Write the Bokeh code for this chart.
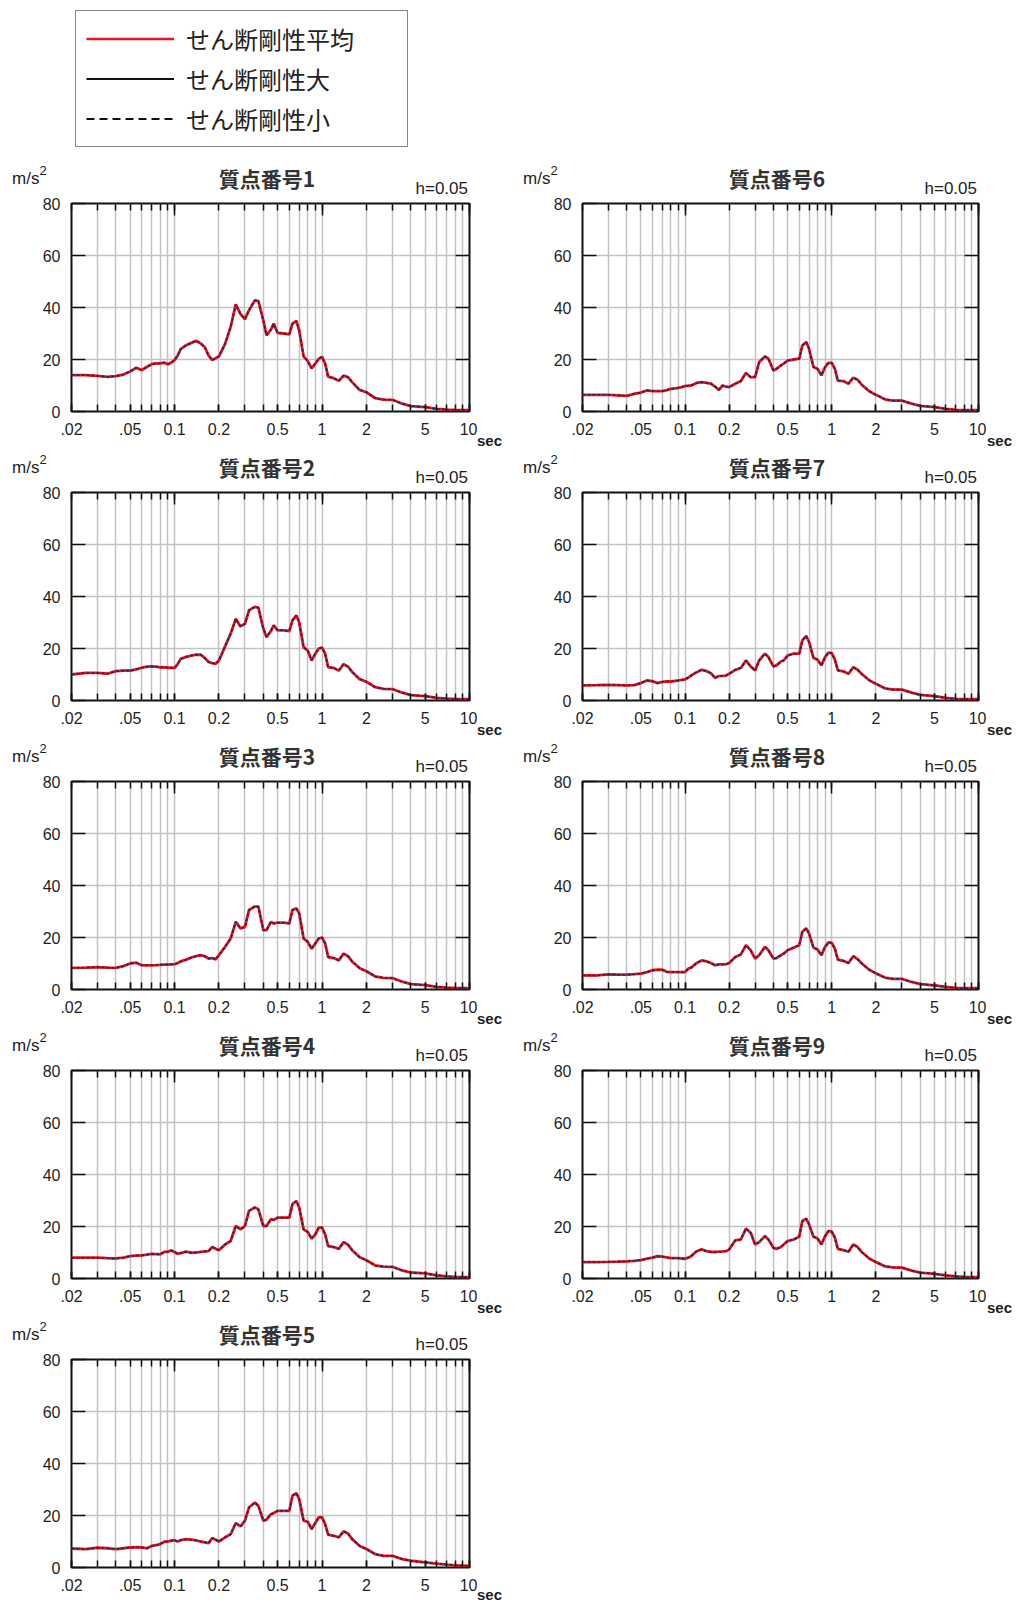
from bokeh.plotting import figure
from bokeh.layouts import column, row
from bokeh.models import (FixedTicker, LinearAxis, LogAxis, Legend, LegendItem,
                          Spacer, Range1d, ColumnDataSource, Div)
from bokeh.embed import file_html
from bokeh.resources import INLINE

# ---------------- data ----------------
PERIODS = [0.02, 0.025, 0.03, 0.035, 0.04, 0.045, 0.05, 0.055, 0.06, 0.065,
           0.07, 0.075, 0.08, 0.085, 0.09, 0.095, 0.1, 0.105, 0.11, 0.12,
           0.13, 0.14, 0.15, 0.16, 0.17, 0.18, 0.19, 0.2, 0.22, 0.24,
           0.26, 0.28, 0.3, 0.32, 0.35, 0.37, 0.4, 0.42, 0.45, 0.47,
           0.5, 0.55, 0.6, 0.63, 0.67, 0.7, 0.75, 0.8, 0.85, 0.9,
           0.95, 1.0, 1.05, 1.1, 1.2, 1.3, 1.4, 1.5, 1.6, 1.8,
           2.0, 2.3, 2.6, 3.0, 3.5, 4.0, 5.0, 6.0, 7.0, 8.0,
           10.0]

SA_1 = [14.0, 14.0, 13.7, 13.3, 13.6, 14.2, 15.4, 16.8, 15.9, 17.2,
        18.2, 18.5, 18.5, 18.8, 18.2, 18.8, 19.8, 21.5, 24.0, 25.5,
        26.4, 27.2, 26.2, 24.8, 21.6, 19.8, 20.5, 21.2, 26.0, 32.5,
        41.2, 37.5, 35.5, 39.0, 42.7, 42.5, 35.0, 29.3, 31.5, 33.8,
        30.2, 30.0, 29.7, 33.8, 34.8, 31.2, 21.2, 19.4, 16.6, 18.4,
        20.3, 21.0, 18.4, 13.4, 12.8, 11.8, 13.8, 13.2, 11.3, 8.3,
        7.4, 5.1, 4.6, 4.5, 3.0, 2.1, 1.7, 1.0, 0.7, 0.6,
        0.5]
SA_2 = [10.0, 10.6, 10.6, 10.3, 11.3, 11.5, 11.5, 12.0, 12.6, 13.0,
        13.1, 13.0, 12.7, 12.8, 12.6, 12.6, 12.5, 14.0, 16.0, 16.8,
        17.3, 17.6, 17.6, 16.4, 14.8, 14.4, 14.1, 15.4, 20.8, 25.7,
        31.4, 28.5, 29.5, 34.7, 36.0, 35.7, 27.6, 24.4, 26.7, 28.9,
        27.0, 27.0, 26.7, 30.8, 32.7, 30.1, 20.5, 19.2, 15.4, 18.0,
        20.0, 20.3, 18.0, 12.8, 12.5, 11.5, 14.0, 13.0, 11.0, 8.2,
        7.2, 5.1, 4.5, 4.4, 3.0, 2.1, 1.7, 1.0, 0.7, 0.6,
        0.5]
SA_3 = [8.3, 8.4, 8.6, 8.4, 8.3, 9.0, 10.0, 10.3, 9.3, 9.3,
        9.3, 9.4, 9.5, 9.6, 9.6, 9.7, 9.7, 10.2, 10.8, 11.5,
        12.3, 12.8, 13.2, 12.8, 11.9, 12.1, 11.6, 13.2, 16.4, 19.6,
        26.0, 23.5, 24.1, 30.6, 31.9, 31.9, 22.8, 22.8, 26.0, 25.4,
        25.7, 25.7, 25.4, 30.6, 31.2, 29.3, 19.6, 18.3, 15.7, 17.7,
        19.6, 20.0, 17.7, 12.5, 12.1, 11.2, 13.8, 12.8, 10.8, 8.2,
        7.0, 5.0, 4.5, 4.4, 3.0, 2.1, 1.7, 1.0, 0.7, 0.6,
        0.5]
SA_4 = [8.0, 8.0, 8.0, 7.8, 7.7, 8.0, 8.6, 8.8, 8.9, 9.2,
        9.5, 9.4, 9.3, 10.2, 10.3, 10.8, 10.2, 9.5, 9.8, 10.3,
        9.9, 10.0, 10.2, 10.4, 10.5, 12.1, 11.4, 10.9, 13.1, 14.4,
        20.2, 18.9, 20.2, 26.0, 27.3, 26.6, 20.2, 20.2, 22.8, 22.5,
        23.4, 23.4, 23.4, 28.6, 29.8, 27.3, 18.9, 17.9, 15.3, 17.0,
        19.6, 19.6, 17.0, 12.5, 12.1, 11.4, 14.0, 13.0, 10.9, 8.2,
        7.0, 5.0, 4.6, 4.5, 3.1, 2.3, 2.0, 1.2, 0.8, 0.6,
        0.5]
SA_5 = [7.3, 7.1, 7.6, 7.4, 7.1, 7.4, 7.7, 7.8, 7.7, 7.4,
        8.3, 8.6, 9.0, 9.9, 10.0, 10.3, 10.5, 10.0, 10.5, 10.9,
        10.7, 10.4, 10.0, 9.7, 9.4, 11.3, 10.7, 10.0, 11.6, 12.8,
        17.1, 15.8, 18.0, 23.1, 25.0, 23.7, 18.0, 18.4, 20.5, 20.9,
        21.8, 21.8, 21.8, 27.6, 28.6, 26.3, 18.0, 17.6, 14.8, 17.1,
        19.3, 19.3, 16.7, 12.6, 12.2, 11.6, 13.9, 13.1, 10.9, 8.3,
        7.1, 5.1, 4.5, 4.5, 3.2, 2.6, 2.0, 1.5, 1.1, 0.8,
        0.6]
SA_6 = [6.4, 6.4, 6.4, 6.2, 6.0, 6.8, 7.3, 8.1, 7.8, 7.8,
        7.8, 8.2, 8.7, 8.9, 9.1, 9.4, 9.8, 9.9, 10.0, 11.0,
        11.3, 11.0, 10.7, 9.6, 8.3, 10.0, 9.6, 9.4, 10.7, 11.7,
        14.8, 13.2, 13.2, 19.0, 21.2, 20.3, 15.8, 16.4, 17.7, 18.4,
        19.6, 20.0, 20.3, 25.4, 26.7, 24.1, 17.1, 16.4, 13.9, 17.1,
        18.7, 18.7, 16.4, 11.9, 11.7, 10.7, 13.0, 12.2, 10.3, 7.8,
        6.4, 4.7, 4.2, 4.2, 3.0, 2.2, 1.7, 1.0, 0.6, 0.5,
        0.5]
SA_7 = [5.8, 5.9, 6.0, 5.9, 5.8, 5.9, 6.7, 7.7, 7.4, 6.7,
        7.2, 7.3, 7.3, 7.5, 7.7, 7.9, 8.1, 8.8, 9.6, 10.9,
        11.8, 11.3, 10.5, 8.7, 9.4, 9.5, 9.6, 10.3, 11.8, 12.5,
        15.4, 13.1, 11.6, 15.4, 18.0, 16.7, 13.1, 13.5, 15.0, 15.4,
        17.3, 18.0, 18.0, 23.1, 24.8, 22.5, 16.4, 15.7, 13.5, 16.7,
        18.4, 18.2, 15.7, 11.6, 11.2, 10.3, 12.8, 11.8, 10.2, 7.8,
        6.4, 4.7, 4.2, 4.2, 3.0, 2.2, 1.7, 1.0, 0.6, 0.5,
        0.5]
SA_8 = [5.4, 5.4, 5.8, 5.7, 5.7, 5.9, 6.1, 6.7, 7.4, 7.6,
        7.6, 6.8, 6.7, 6.7, 6.7, 6.7, 6.7, 8.0, 8.4, 10.2,
        11.2, 10.8, 10.2, 9.3, 9.7, 9.7, 9.7, 10.2, 12.5, 13.5,
        17.0, 15.1, 11.9, 13.2, 16.4, 15.1, 11.9, 12.1, 13.2, 13.8,
        15.1, 16.1, 17.0, 22.2, 23.5, 21.5, 16.1, 15.4, 13.2, 16.4,
        18.1, 17.9, 15.7, 11.5, 11.0, 10.2, 12.8, 11.7, 10.0, 7.6,
        6.2, 4.6, 4.1, 4.1, 2.9, 2.1, 1.6, 1.0, 0.6, 0.5,
        0.5]
SA_9 = [6.3, 6.3, 6.4, 6.5, 6.6, 6.8, 7.1, 7.6, 8.0, 8.6,
        8.4, 8.1, 7.8, 7.8, 7.8, 7.7, 7.6, 8.0, 8.6, 10.5,
        11.2, 10.5, 10.2, 10.2, 10.3, 10.4, 10.5, 11.2, 14.7, 15.0,
        19.2, 17.6, 13.1, 14.0, 16.3, 15.0, 11.8, 11.4, 12.1, 13.1,
        14.4, 15.0, 16.1, 22.1, 23.0, 20.8, 16.1, 15.4, 13.1, 16.3,
        18.3, 18.0, 15.7, 11.4, 10.9, 10.3, 13.1, 12.1, 10.2, 7.7,
        6.3, 4.7, 4.3, 4.2, 3.0, 2.3, 1.8, 1.2, 0.8, 0.6,
        0.5]

PANEL_TITLES = ["質点番号1", "質点番号2", "質点番号3", "質点番号4", "質点番号5",
                "質点番号6", "質点番号7", "質点番号8", "質点番号9"]
PANEL_VALUES = [SA_1, SA_2, SA_3, SA_4, SA_5, SA_6, SA_7, SA_8, SA_9]
SERIES_NAMES = ["せん断剛性平均", "せん断剛性大", "せん断剛性小"]
DAMPING_LABEL = "h=0.05"
Y_UNIT = "m/s"
Y_UNIT_EXP = "2"
X_UNIT = "sec"
X_TICKS = [0.02, 0.05, 0.1, 0.2, 0.5, 1, 2, 5, 10]
X_TICK_LABELS = [".02", ".05", "0.1", "0.2", "0.5", "1", "2", "5", "10"]
X_DECADES = [0.1, 1, 10]
X_GRID = [0.02, 0.03, 0.04, 0.05, 0.06, 0.07, 0.08, 0.09,
          0.1, 0.2, 0.3, 0.4, 0.5, 0.6, 0.7, 0.8, 0.9,
          1, 2, 3, 4, 5, 6, 7, 8, 9, 10]
Y_TICKS = [0, 20, 40, 60, 80]
Y_GRID = [20, 40, 60]
X_MIN, X_MAX = 0.02, 10
Y_MIN, Y_MAX = 0, 80

# ---------------- styling / layout ----------------
NUM_FONT = "Liberation Sans"
JP_FONT = "Noto Sans CJK JP"
TXT = "#1e1e1e"
INK = "#111111"
GRID_COLOR = "#c2c2c2"
TICK_FONT_SIZE = "16px"
FRAME_H = 208
HEADER_H = 39
FIG_TOP = 6
FIG_BOTTOM = 36
LEGEND_H = 158

LEFT_COL_W = 508
RIGHT_COL_W = 511
COLS = {
    "left": dict(colw=LEFT_COL_W, bl=71, fw=398, br=8, sec_left=0),
    "right": dict(colw=RIGHT_COL_W, bl=74, fw=396, br=8, sec_left=1),
}


def make_figure(idx, geo, bottom):
    width = geo["bl"] + geo["fw"] + geo["br"]
    p = figure(width=width, height=FIG_TOP + FRAME_H + bottom, x_axis_type="log",
               x_range=Range1d(X_MIN, X_MAX), y_range=Range1d(Y_MIN, Y_MAX),
               output_backend="svg", toolbar_location=None,
               min_border_left=geo["bl"], min_border_right=geo["br"],
               min_border_top=FIG_TOP, min_border_bottom=bottom)
    p.background_fill_color = "white"
    p.border_fill_color = "white"
    p.outline_line_color = INK
    p.outline_line_width = 2

    xb = p.xaxis[0]
    xb.ticker = FixedTicker(ticks=X_TICKS, minor_ticks=X_GRID)
    xb.major_label_overrides = {t: l for t, l in zip(X_TICKS, X_TICK_LABELS)}
    xb.major_tick_in = 7
    xb.major_tick_out = 0
    xb.minor_tick_in = 7
    xb.minor_tick_out = 0
    xb.major_tick_line_width = 1.5
    xb.minor_tick_line_width = 1.5
    xb.major_tick_line_color = INK
    xb.minor_tick_line_color = INK
    xb.axis_line_color = None
    xb.major_label_text_font = NUM_FONT
    xb.major_label_text_font_size = TICK_FONT_SIZE
    xb.major_label_text_color = TXT
    xb.major_label_standoff = 11

    yl = p.yaxis[0]
    yl.ticker = FixedTicker(ticks=Y_TICKS)
    yl.major_tick_in = 14
    yl.major_tick_out = 0
    yl.minor_tick_line_color = None
    yl.major_tick_line_width = 1.5
    yl.major_tick_line_color = INK
    yl.axis_line_color = None
    yl.major_label_text_font = NUM_FONT
    yl.major_label_text_font_size = TICK_FONT_SIZE
    yl.major_label_text_color = TXT
    yl.major_label_standoff = 11

    xt = LogAxis(ticker=FixedTicker(ticks=X_DECADES, minor_ticks=X_GRID),
                 major_tick_in=12, major_tick_out=0, minor_tick_in=7, minor_tick_out=0,
                 major_tick_line_width=1.5, minor_tick_line_width=1.5,
                 major_tick_line_color=INK, minor_tick_line_color=INK,
                 axis_line_color=None,
                 major_label_overrides={t: "" for t in X_DECADES},
                 major_label_text_font_size="1px", major_label_standoff=0)
    p.add_layout(xt, "above")

    yr = LinearAxis(ticker=FixedTicker(ticks=Y_GRID),
                    major_tick_in=14, major_tick_out=0, minor_tick_line_color=None,
                    major_tick_line_width=1.5, major_tick_line_color=INK,
                    axis_line_color=None,
                    major_label_overrides={t: "" for t in Y_GRID},
                    major_label_text_font_size="1px", major_label_standoff=0)
    p.add_layout(yr, "right")

    p.xgrid[0].ticker = FixedTicker(ticks=X_GRID)
    p.ygrid[0].ticker = FixedTicker(ticks=Y_GRID)
    for g in (p.xgrid[0], p.ygrid[0]):
        g.grid_line_color = GRID_COLOR
        g.grid_line_width = 1.5

    src = ColumnDataSource(dict(period=PERIODS, sa=PANEL_VALUES[idx]))
    # the three stiffness cases coincide; drawn 大 -> 平均 -> 小
    p.line("period", "sa", source=src, line_color=INK, line_width=1.6)
    p.line("period", "sa", source=src, line_color="#e8161b", line_width=2.8)
    p.line("period", "sa", source=src, line_color="#24205a", line_width=1.5,
           line_dash="3 2")
    return p


def header(idx, geo):
    w = geo["colw"]
    fl, fr = geo["bl"], geo["bl"] + geo["fw"]
    cx = (fl + fr) / 2 - 3
    html = (
        f'<div style="position:relative;width:{w}px;height:{HEADER_H}px;">'
        f'<span style="position:absolute;left:{fl - 59}px;top:12px;line-height:1;'
        f'font-family:\'{NUM_FONT}\';font-size:17px;color:{TXT};white-space:nowrap;">'
        f'{Y_UNIT}<span style="position:relative;top:-9px;font-size:13px;">{Y_UNIT_EXP}</span></span>'
        f'<span style="position:absolute;left:{cx - 100:.1f}px;width:200px;top:10px;'
        f'text-align:center;line-height:1;font-family:\'{JP_FONT}\';font-weight:bold;'
        f'font-size:21px;color:#333333;white-space:nowrap;">{PANEL_TITLES[idx]}</span>'
        f'<span style="position:absolute;right:{w - (fr - 1)}px;top:22px;line-height:1;'
        f'font-family:\'{NUM_FONT}\';font-size:17px;color:{TXT};white-space:nowrap;">'
        f'{DAMPING_LABEL}</span>'
        '</div>'
    )
    return Div(text=html, width=w, height=HEADER_H, margin=(0, 0, 0, 0))


def sec_div(geo, height, top):
    w = geo["colw"] - (geo["bl"] + geo["fw"] + geo["br"])
    html = (
        f'<div style="position:relative;width:{w}px;height:{height}px;">'
        f'<span style="position:absolute;left:{geo["sec_left"]}px;top:{top}px;line-height:1;'
        f'font-family:\'{NUM_FONT}\';font-weight:bold;font-size:15px;color:{TXT};">'
        f'{X_UNIT}</span></div>'
    )
    return Div(text=html, width=w, height=height, margin=(0, 0, 0, 0))


def panel(idx, side, last=False):
    geo = COLS[side]
    bottom = 34 if last else FIG_BOTTOM
    fig = make_figure(idx, geo, bottom)
    h = FIG_TOP + FRAME_H + bottom
    return column(header(idx, geo), row(fig, sec_div(geo, h, h - 14)))


# ---------------- legend (library legend on invisible copies of series 1) ----------------
leg_fig = figure(width=LEFT_COL_W, height=LEGEND_H, x_axis_type="log",
                 x_range=Range1d(X_MIN, X_MAX), y_range=Range1d(Y_MIN, Y_MAX),
                 output_backend="svg", toolbar_location=None,
                 x_axis_location=None, y_axis_location=None,
                 min_border_left=0, min_border_right=0, min_border_top=0, min_border_bottom=0)
leg_fig.outline_line_color = None
leg_fig.xgrid.visible = False
leg_fig.ygrid.visible = False
leg_src = ColumnDataSource(dict(period=PERIODS, sa=SA_1))
r_avg = leg_fig.line("period", "sa", source=leg_src, line_color="#e8161b", line_width=2.4)
r_big = leg_fig.line("period", "sa", source=leg_src, line_color=INK, line_width=2.2)
r_small = leg_fig.line("period", "sa", source=leg_src, line_color=INK, line_width=2.2,
                       line_dash="8 5")
for r in (r_avg, r_big, r_small):
    r.visible = False
legend = Legend(items=[LegendItem(label=SERIES_NAMES[0], renderers=[r_avg]),
                       LegendItem(label=SERIES_NAMES[1], renderers=[r_big]),
                       LegendItem(label=SERIES_NAMES[2], renderers=[r_small])],
                location=(75, 11), orientation="vertical",
                border_line_color=INK, border_line_width=1.5,
                background_fill_color="white", background_fill_alpha=1.0,
                padding=10, spacing=5, margin=0,
                glyph_width=88, glyph_height=23, label_height=23, label_width=211,
                label_standoff=12,
                label_text_font=JP_FONT, label_text_font_size="24px",
                label_text_color="#222222")
leg_fig.add_layout(legend)

left = column(leg_fig, *[panel(i, "left", last=(i == 4)) for i in range(5)])
right = column(Spacer(width=RIGHT_COL_W, height=LEGEND_H),
               *[panel(i, "right") for i in range(5, 9)])
layout = row(left, right)

open("out.html", "w").write(file_html(layout, INLINE))
